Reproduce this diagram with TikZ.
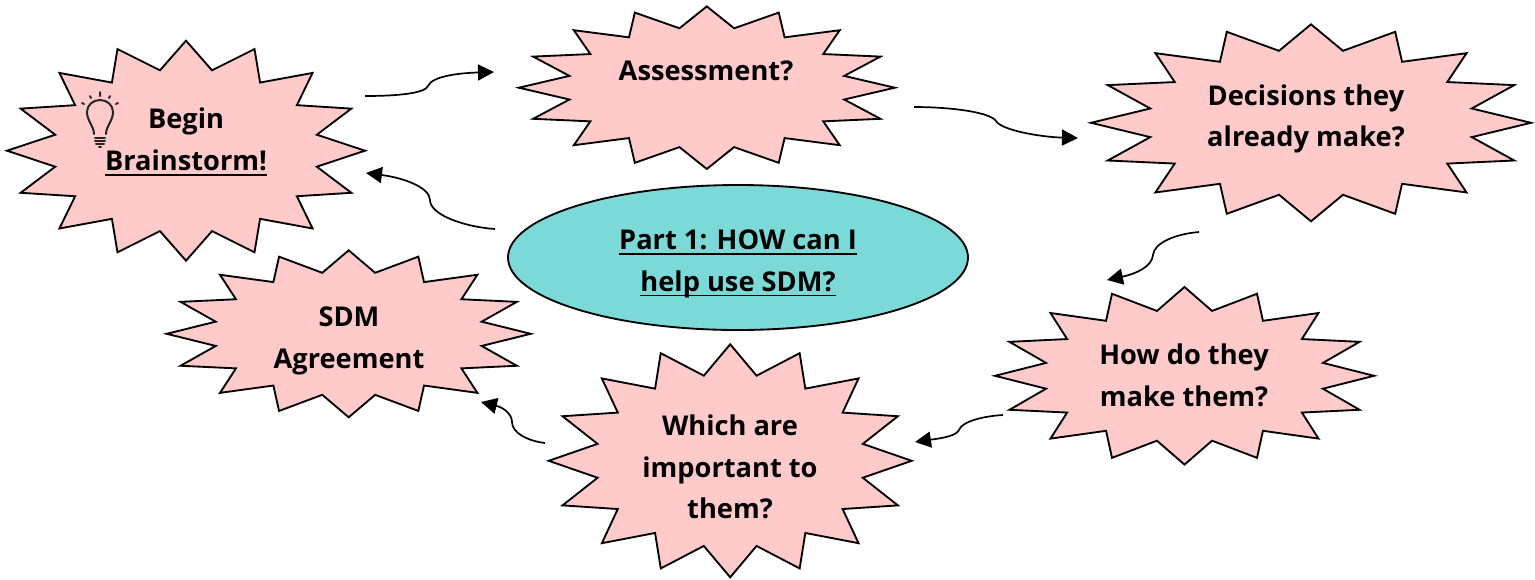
\documentclass[tikz,border=0pt]{standalone}
\usepackage{fontspec}
\setmainfont{Open Sans}
\usetikzlibrary{arrows.meta}
\definecolor{burstpink}{HTML}{FFCACA}
\definecolor{ovalteal}{HTML}{7BDAD8}
\newsavebox{\ulinebox}
\newcommand{\thickul}[1]{\sbox{\ulinebox}{#1}\rlap{\rule[-2.8pt]{\wd\ulinebox}{1pt}}\usebox{\ulinebox}}
\tikzset{
  burst/.style={draw=black, fill=burstpink, line width=0.037cm, line join=miter},
  label/.style={font=\bfseries\fontsize{15.5}{23.8}\selectfont, align=center, text=black, inner sep=0pt},
  flow/.style={-{Triangle[length=0.32cm,width=0.32cm]}, line width=0.034cm},
  bulb/.style={line width=0.04cm, draw=black!85, line cap=round}
}
% estrella de 16 puntas: centro x, centro y, radio x, radio y
\newcommand{\burststar}[4]{
  \draw[burst] plot[samples at={0,...,31}, variable=\k]
    ({#1+#3*(mod(\k,2)==0 ? 1 : 0.745)*cos(\k*11.25)},
     {#2+#4*(mod(\k,2)==0 ? 1 : 0.745)*sin(\k*11.25)}) -- cycle;
}
\begin{document}
\begin{tikzpicture}[x=0.02cm, y=-0.02cm]
  \useasboundingbox (0,0) rectangle (1535,579);

  %estrellas
  \burststar{186}{150.7}{179}{110}
  \burststar{706.8}{87.7}{188}{81.3}
  \burststar{1311}{122.8}{220}{98.5}
  \burststar{1184.5}{375.8}{189.5}{88.8}
  \burststar{730.2}{460.8}{181.5}{116.5}
  \burststar{348.7}{333.8}{182}{83.5}

  %ovalo central
  \draw[fill=ovalteal, line width=0.037cm] (738,257.5) ellipse (230 and 72.5);

  %textos
  \node[label] (begin) at (186,142) {Begin\\\thickul{Brainstorm!}};
  \node[label] (assess) at (706,71) {Assessment?};
  \node[label] (decide) at (1306,119) {Decisions they\\already make?};
  \node[label] (how) at (1184,375) {How do they\\make them?};
  \node[label] (which) at (730,467) {Which are\\important to\\them?};
  \node[label] (agree) at (349,341) {SDM\\Agreement};
  \node[label] (part) at (738,264) {\thickul{Part 1: HOW can I}\\\thickul{help use SDM?}};

  %bombilla
  \draw[bulb] (94,134) .. controls (94,126) and (87,121) .. (87,112)
    .. controls (87,105) and (93,100) .. (100,100)
    .. controls (107,100) and (113,105) .. (113,112)
    .. controls (113,121) and (106,126) .. (106,134);
  \draw[bulb] (95,138) -- (105,138) (95,141) -- (105,141) (96,144) -- (104,144) (99,147) -- (101,147);
  \draw[bulb] (100,92) -- (100,96) (90,96) -- (91,98) (110,96) -- (109,98) (82,103) -- (84,104) (118,103) -- (116,104);

  %flechas
  \coordinate (a1) at (365,96);
  \coordinate (a2) at (494,72);
  \draw[flow] (a1) .. controls (400,96) and (425,93) .. (428,86)
    .. controls (432,76) and (460,73) .. (a2);
  \coordinate (b1) at (914,107);
  \coordinate (b2) at (1078,138);
  \draw[flow] (b1) .. controls (950,107) and (990,112) .. (996,121)
    .. controls (1001,130) and (1040,137) .. (b2);
  \coordinate (c1) at (1199,232);
  \coordinate (c2) at (1107,280);
  \draw[flow] (c1) .. controls (1175,234) and (1154,243) .. (1153,255)
    .. controls (1152,267) and (1135,274) .. (c2);
  \coordinate (d1) at (1003,415);
  \coordinate (d2) at (915,442);
  \draw[flow] (d1) .. controls (985,416) and (962,421) .. (959,430)
    .. controls (956,437) and (935,439) .. (d2);
  \coordinate (e1) at (545,443);
  \coordinate (e2) at (481,402);
  \draw[flow] (e1) .. controls (528,441) and (512,433) .. (512,422)
    .. controls (512,415) and (505,408) .. (e2);
  \coordinate (f1) at (495,229);
  \coordinate (f2) at (366,173);
  \draw[flow] (f1) .. controls (465,227) and (430,215) .. (430,200)
    .. controls (430,188) and (405,178) .. (f2);
\end{tikzpicture}
\end{document}
